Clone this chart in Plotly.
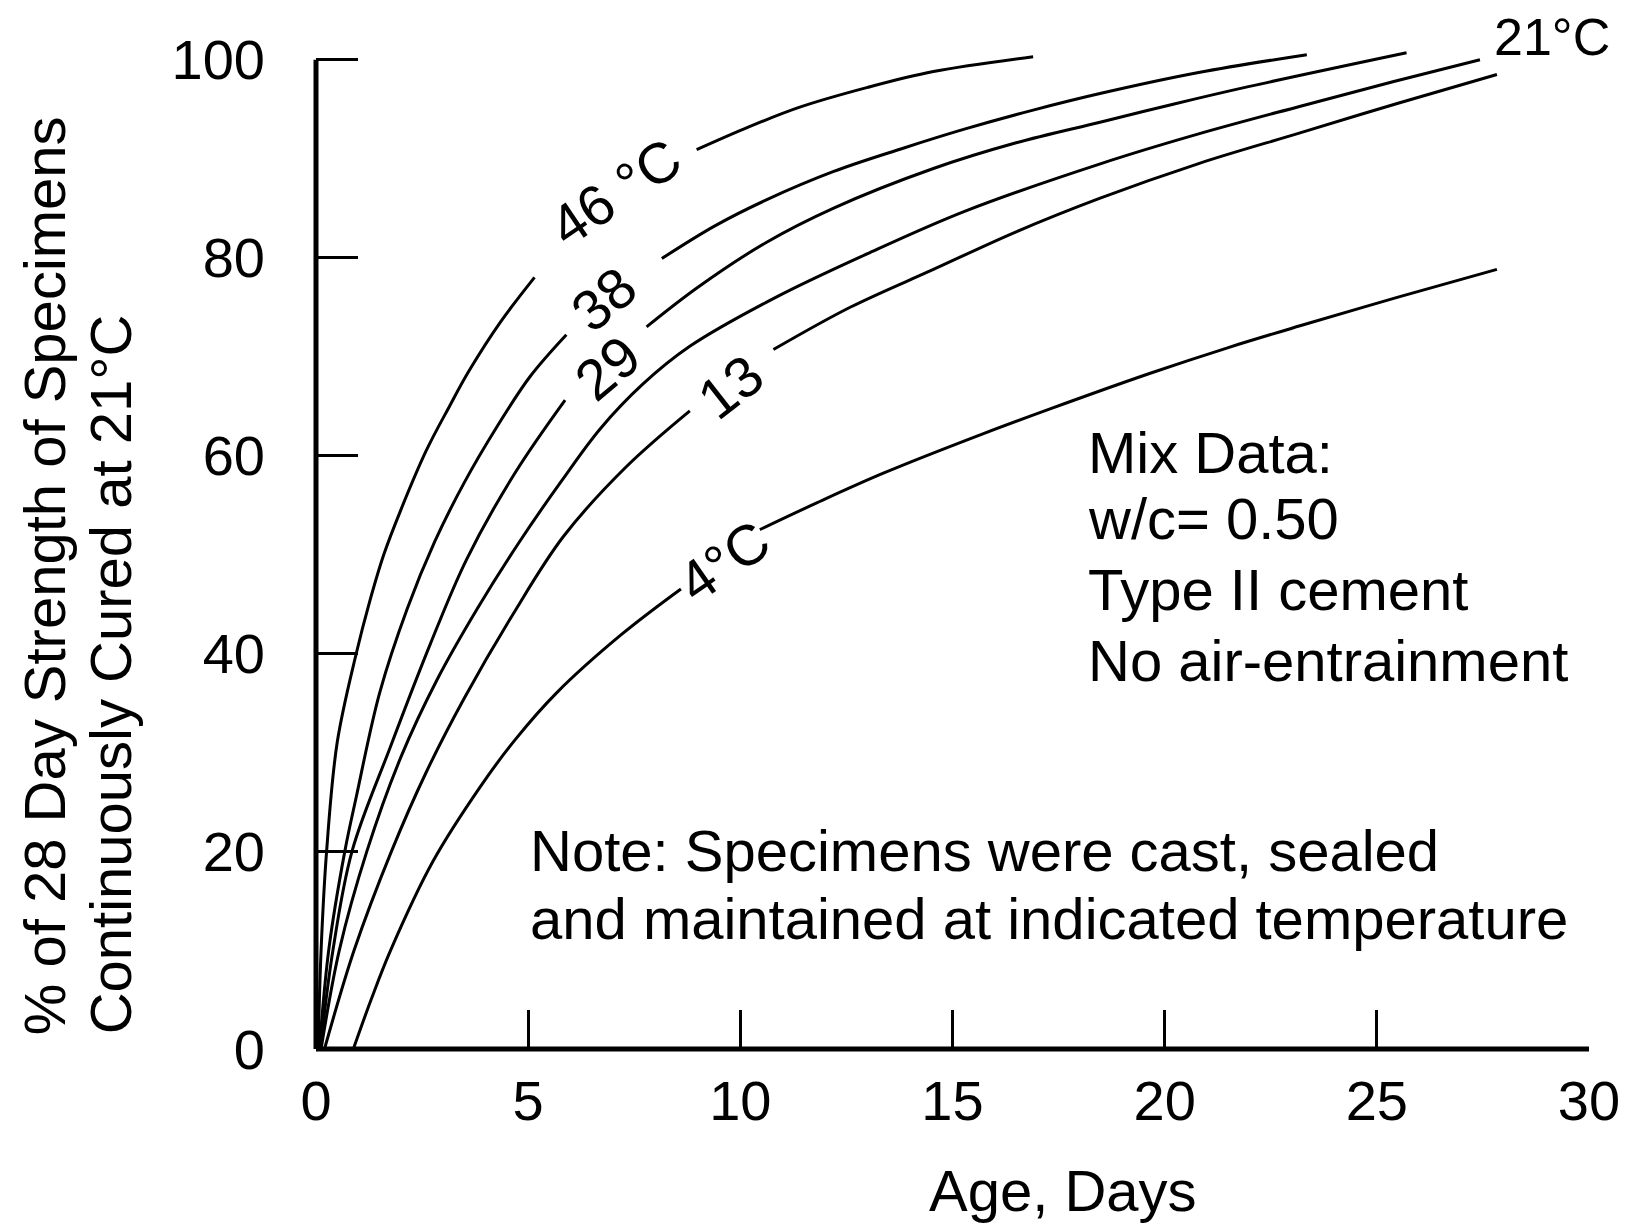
import plotly.graph_objects as go

# ---- data ----
x46 = [0.05, 0.12, 0.25, 0.5, 0.95, 1.25, 1.6, 2.0, 2.6, 3.15, 3.6, 4.35, 5.15, None, 8.97, 10.2, 11.4, 13.0, 14.55, 16.9]
y46 = [0, 10, 20, 31, 40, 45, 50, 54.5, 60.5, 65, 68.5, 73.5, 78.0, None, 90.9, 93.2, 95.2, 97.2, 98.8, 100.3]

x38 = [0.08, 0.3, 0.68, 0.95, 1.5, 2.15, 2.8, 3.5, 4.25, 5.05, 5.9, None, 8.15, 9.4, 10.6, 12.2, 13.8, 15.3, 16.9, 18.5, 20.8, 23.35]
y38 = [0, 10, 20, 25.5, 36.0, 44.5, 51.3, 57.3, 62.8, 68.0, 72.2, None, 79.9, 83.2, 85.8, 88.7, 91.0, 93.0, 94.9, 96.6, 98.7, 100.5]

x29 = [0.1, 0.4, 0.85, 1.75, 2.7, 3.55, 4.7, 5.87, None, 7.79, 9.0, 10.6, 12.2, 14.55, 16.5, 18.5, 20.2, 22.0, 25.7]
y29 = [0, 10, 20, 30.5, 41.0, 49.5, 58.3, 65.6, None, 73.0, 77.0, 81.5, 85.0, 89.0, 91.6, 93.7, 95.5, 97.3, 100.7]

x21 = [0.12, 0.55, 1.2, 2.0, 2.85, 3.8, 4.8, 5.8, 6.7, 7.7, 8.8, 10.8, 13.0, 15.3, 18.5, 20.8, 23.2, 25.4, 27.43]
y21 = [0, 10, 20, 29.5, 37.3, 44.5, 51.3, 57.5, 62.7, 67.2, 71.0, 75.9, 80.4, 84.7, 89.5, 92.5, 95.3, 97.8, 100.0]

x13 = [0.2, 0.9, 1.78, 2.6, 3.5, 4.65, 5.83, 7.3, 8.81, None, 10.78, 12.6, 14.55, 16.5, 18.48, 20.8, 23.19, 25.5, 27.83]
y13 = [0, 10, 20, 28, 35.5, 44.0, 51.8, 58.8, 64.5, None, 70.7, 75.0, 78.8, 82.6, 86.0, 89.5, 92.6, 95.6, 98.5]

x4 = [0.88, 1.3, 1.74, 2.76, 3.87, 4.7, 5.67, 7.2, 8.6, None, 10.46, 11.8, 13.37, 15.73, 17.3, 19.66, 21.5, 23.19, 25.5, 27.83]
y4 = [0, 5, 9.8, 19, 26.5, 31.3, 36.0, 41.9, 46.5, None, 52.5, 55.2, 58.2, 62.2, 64.7, 68.3, 70.9, 73.1, 76.0, 78.8]

series = [(x46, y46), (x38, y38), (x29, y29), (x21, y21), (x13, y13), (x4, y4)]

x_ticks = [0, 5, 10, 15, 20, 25, 30]
y_ticks = [0, 20, 40, 60, 80, 100]

# curve labels: text, x, y, angle
curve_labels = [
    ("46 °C", 7.06, 86.6, -34),
    ("38", 6.78, 75.8, -40),
    ("29", 6.86, 68.8, -40),
    ("13", 9.76, 66.9, -38),
    ("4°C", 9.62, 49.3, -35),
]

mix_lines = ["Mix Data:", "w/c= 0.50", "Type II cement", "No air-entrainment"]
mix_y = [60.3, 53.6, 46.4, 39.3]
note_lines = ["Note: Specimens were cast, sealed", "and maintained at indicated temperature"]
note_y = [20.1, 13.2]
ytitle_lines = ["% of 28 Day Strength of Specimens", "Continuously Cured at 21°C"]
ytitle_x = [-0.2137, -0.1614]

FONT = "Liberation Sans, Arial, sans-serif"
FS = 58


def f(size=FS):
    return dict(size=size, family=FONT, color="black")


fig = go.Figure()
for xs, ys in series:
    fig.add_trace(go.Scatter(
        x=xs, y=ys, mode="lines", connectgaps=False,
        line=dict(color="black", width=3, shape="spline", smoothing=1.0),
        showlegend=False, hoverinfo="skip"))

ann = []
for t, x, y, a in curve_labels:
    ann.append(dict(text=t, x=x, y=y, xref="x", yref="y", showarrow=False,
                    textangle=a, font=f(57), xanchor="center", yanchor="middle"))

ann.append(dict(text="21°C", x=27.72, y=102.3, xref="x", yref="y", showarrow=False,
                font=f(52), xanchor="left", yanchor="middle"))

for t, y in zip(mix_lines, mix_y):
    ann.append(dict(text=t, x=18.15, y=y, xref="x", yref="y", showarrow=False,
                    font=f(), xanchor="left", yanchor="middle"))

for t, y in zip(note_lines, note_y):
    ann.append(dict(text=t, x=5.0, y=y, xref="x", yref="y", showarrow=False,
                    font=f(), xanchor="left", yanchor="middle"))

ann.append(dict(text="Age, Days", x=0.587, y=-0.139, xref="paper", yref="paper",
                showarrow=False, font=f(), xanchor="center", yanchor="middle"))

for t, x in zip(ytitle_lines, ytitle_x):
    ann.append(dict(text=t, x=x, y=0.012, xref="paper", yref="paper", showarrow=False,
                    textangle=-90, font=f(), xanchor="center", yanchor="bottom"))

shapes = [
    dict(type="line", xref="paper", yref="paper", x0=0, x1=0, y0=0, y1=100 / 103,
         line=dict(color="black", width=5), layer="above"),
    dict(type="line", xref="paper", yref="paper", x0=0, x1=1, y0=0, y1=0,
         line=dict(color="black", width=5), layer="above"),
]

fig.update_layout(
    width=1650, height=1225,
    margin=dict(l=316, r=61, t=30, b=176),
    paper_bgcolor="white", plot_bgcolor="white",
    annotations=ann, shapes=shapes,
    font=dict(family=FONT, color="black"),
    xaxis=dict(range=[0, 30], tickvals=x_ticks, ticktext=[str(v) for v in x_ticks],
               ticks="inside", ticklen=39, tickwidth=3, tickcolor="black",
               showline=False, showgrid=False, zeroline=False,
               tickfont=f(56), ticklabelstandoff=14),
    yaxis=dict(range=[0, 103], tickvals=y_ticks, ticktext=[str(v) for v in y_ticks],
               ticks="inside", ticklen=42, tickwidth=3, tickcolor="black",
               showline=False, showgrid=False, zeroline=False,
               tickfont=f(56), ticklabelstandoff=50),
)

fig.write_html("out.html")
